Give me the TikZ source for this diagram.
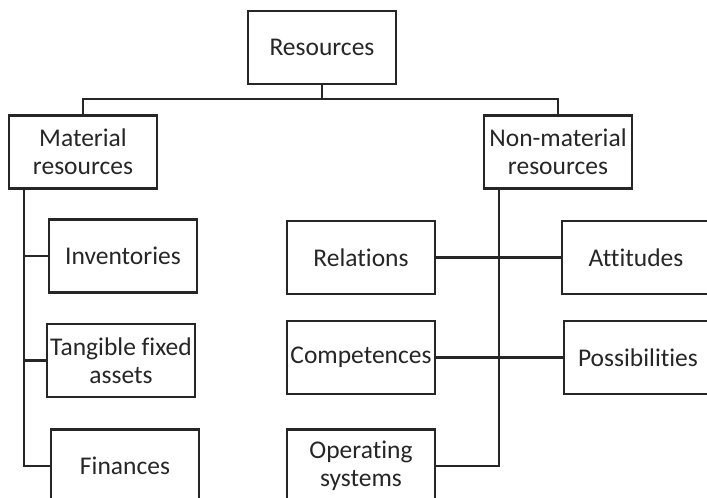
\documentclass[tikz,border=0pt]{standalone}
\usepackage{fontspec}
\setmainfont{Carlito}[Ligatures={NoCommon}]
\usetikzlibrary{positioning}
\definecolor{Ink}{HTML}{262626}

\tikzset{
  box/.style={draw=Ink,line width=2.4pt,rectangle,inner sep=0pt,
              minimum width=148pt,minimum height=73pt,align=center,
              text=Ink,font=\fontsize{25.5}{28}\selectfont},
  link/.style={draw=Ink,line width=2.4pt}
}

\begin{document}
\begin{tikzpicture}[x=1pt,y=-1pt]
  \useasboundingbox (0,0) rectangle (707,498);
  \clip (0,0) rectangle (707,498);

  % top level and the two branches
  \node[box] (res)    at (322,47.5) {Resources};
  \node[box] (mat)    at (83,152)   {Material\\resources};
  \node[box] (nonmat) at (558,152)  {Non-material\\resources};

  % material side
  \node[box] (inv)  at (123,256)   {Inventories};
  \node[box] (tang) at (121,360.5) {Tangible fixed\\assets};
  \node[box] (fin)  at (125,466)   {Finances};

  % non-material side
  \node[box] (rel)  at (361,257.5) {Relations};
  \node[box] (comp) at (361,357.5) {Competences};
  \node[box] (ops)  at (361,466)   {Operating\\systems};
  \node[box] (att)  at (636,257.5) {Attitudes};
  \node[box] (poss) at (638,357.5) {Possibilities};

  \coordinate (bus)   at (0,99);
  \coordinate (spineL) at (24,0);
  \coordinate (spineR) at (499,0);

  % upper bus
  \draw[link] (res.south) -- (res.south |- bus);
  \draw[link] (mat.north) |- (bus -| nonmat.north) -- (nonmat.north);

  % left spine
  \draw[link] (spineL |- mat.south) |- (fin.west);
  \draw[link] (spineL |- inv.west) -- (inv.west);
  \draw[link] (spineL |- tang.west) -- (tang.west);

  % right spine
  \draw[link] (spineR |- nonmat.south) |- (ops.east);
  \draw[link] (rel.east) -- (att.west);
  \draw[link] (comp.east) -- (poss.west);
\end{tikzpicture}
\end{document}
